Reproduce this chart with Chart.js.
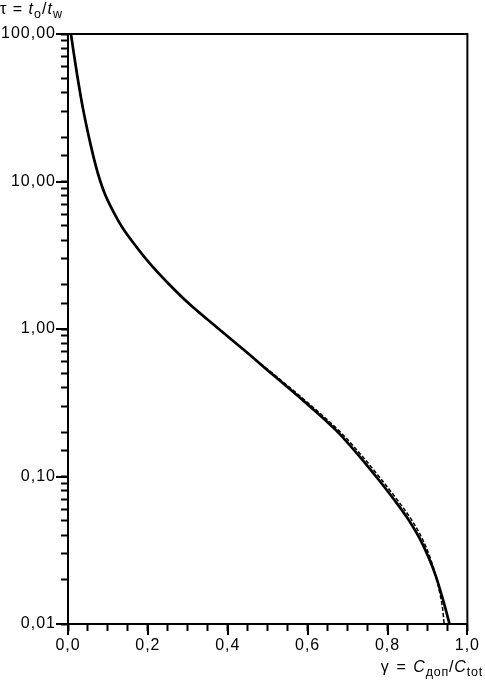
<!DOCTYPE html>
<html>
<head>
<meta charset="utf-8">
<script src="https://cdn.jsdelivr.net/npm/chart.js@4/dist/chart.umd.min.js"></script>
<style>
    html, body { margin: 0; padding: 0; background: #fff; }
    #wrap { position: relative; width: 485px; height: 681px; }
    canvas { position: absolute; left: 0; top: 0; }
    .lbl {
        position: absolute;
        font-family: 'Liberation Sans', Arial, sans-serif;
        font-size: 16px;
        line-height: 18px;
        letter-spacing: 1px;
        color: #000;
        white-space: nowrap;
    }
    .lbl sub { font-size: 12.5px; vertical-align: -4px; line-height: 0; }
</style>
</head>
<body>
<div id="wrap">
    <canvas id="chart" width="485" height="681"></canvas>
    <div class="lbl" style="left:0px; top:0px;">τ = <i>t</i><sub>o</sub>/<i>t</i><sub>w</sub></div>
    <div class="lbl" style="right:2px; top:658px; word-spacing:1.5px; letter-spacing:0.8px;">γ = <i>C</i><sub>доп</sub>/<i>C</i><sub>tot</sub></div>
</div>
<script>
// ── Data ──────────────────────────────────────────
const gammaSolid = [0.0074, 0.0149, 0.0223, 0.0297, 0.0371, 0.0463, 0.0562, 0.0661, 0.0760,
    0.0916, 0.1188, 0.1369, 0.1658, 0.2030, 0.2525, 0.3020, 0.3762, 0.4423,
    0.5124, 0.5824, 0.6733, 0.7228, 0.7723, 0.8144, 0.8540, 0.8812, 0.9035, 0.9208,
    0.9356, 0.9455, 0.9554];
const tauSolid = [100, 72.7, 54.0, 40.9, 31.6, 23.8, 18.0, 13.9, 11.07,
    8.32, 5.88, 4.84, 3.77, 2.82, 2.02, 1.494, 1.008, 0.715,
    0.491, 0.339, 0.203, 0.144, 0.0992, 0.0709, 0.0503, 0.0377, 0.0280, 0.0212,
    0.0157, 0.0126, 0.0100];

const gammaDashed = [0.0074, 0.0149, 0.0223, 0.0297, 0.0371, 0.0463, 0.0562, 0.0661, 0.0760,
    0.0916, 0.1188, 0.1369, 0.1658, 0.2030, 0.2525, 0.3020, 0.3762, 0.4423,
    0.5161, 0.5874, 0.6795, 0.7302, 0.7797, 0.8218, 0.8614, 0.8874, 0.9072, 0.9208,
    0.9319, 0.9381, 0.9418];
const tauDashed = tauSolid.slice();

// Axis ticks
const xMajorTicks = [0, 0.2, 0.4, 0.6, 0.8, 1.0];
const yMajorTicks = [0.01, 0.1, 1, 10, 100];

const FONT = { family: "'Liberation Sans', Arial, sans-serif", size: 16 };

const toPoints = (xs, ys) => xs.map((x, i) => ({ x, y: ys[i] }));

// letter spacing for tick labels + frame + longer major ticks
const axisExtras = {
    id: 'axisExtras',
    beforeLayout(chart) {
        chart.ctx.letterSpacing = '1px';
    },
    beforeDraw(chart) {
        chart.ctx.letterSpacing = '1px';
    },
    afterDraw(chart) {
        const { ctx, chartArea: a, scales } = chart;
        ctx.save();
        ctx.strokeStyle = '#000';
        ctx.lineWidth = 2;
        ctx.strokeRect(a.left, a.top, a.right - a.left, a.bottom - a.top);
        ctx.beginPath();
        xMajorTicks.forEach(v => {
            const px = Math.round(scales.x.getPixelForValue(v));
            ctx.moveTo(px, a.bottom);
            ctx.lineTo(px, a.bottom + 11);
        });
        yMajorTicks.forEach(v => {
            const py = Math.round(scales.y.getPixelForValue(v));
            ctx.moveTo(a.left, py);
            ctx.lineTo(a.left - 12, py);
        });
        ctx.stroke();
        ctx.restore();
    }
};

new Chart(document.getElementById('chart'), {
    type: 'scatter',
    data: {
        datasets: [
            {
                label: 'dashed',
                data: toPoints(gammaDashed, tauDashed),
                showLine: true,
                borderColor: '#000',
                borderWidth: 1.5,
                borderDash: [4, 2],
                pointRadius: 0,
                cubicInterpolationMode: 'monotone'
            },
            {
                label: 'solid',
                data: toPoints(gammaSolid, tauSolid),
                showLine: true,
                borderColor: '#000',
                borderWidth: 2.7,
                pointRadius: 0,
                cubicInterpolationMode: 'monotone'
            }
        ]
    },
    options: {
        responsive: false,
        animation: false,
        devicePixelRatio: 1,
        layout: { padding: { top: 34, right: 13, left: 0, bottom: 0 } },
        plugins: {
            legend: { display: false },
            tooltip: { enabled: false }
        },
        scales: {
            x: {
                type: 'linear',
                min: 0,
                max: 1,
                afterFit: s => { s.height = 57; },
                border: { display: true, color: '#000', width: 2 },
                grid: {
                    drawOnChartArea: false,
                    drawTicks: true,
                    tickLength: 7,
                    tickWidth: 2,
                    tickColor: '#000'
                },
                ticks: {
                    stepSize: 0.05,
                    autoSkip: false,
                    maxRotation: 0,
                    padding: 5,
                    color: '#000',
                    font: FONT,
                    callback: v => Math.abs(v * 5 - Math.round(v * 5)) < 1e-6
                        ? v.toFixed(1).replace('.', ',') : ''
                }
            },
            y: {
                type: 'logarithmic',
                min: 0.01,
                max: 100,
                afterFit: s => { s.width = 68; },
                border: { display: true, color: '#000', width: 2 },
                grid: {
                    drawOnChartArea: false,
                    drawTicks: true,
                    tickLength: 7,
                    tickWidth: 2,
                    tickColor: '#000'
                },
                ticks: {
                    autoSkip: false,
                    padding: 5,
                    color: '#000',
                    font: FONT,
                    callback: v => {
                        const e = Math.log10(v);
                        return Math.abs(e - Math.round(e)) < 1e-6
                            ? v.toFixed(2).replace('.', ',') : '';
                    }
                }
            }
        }
    },
    plugins: [axisExtras]
});
</script>
</body>
</html>
